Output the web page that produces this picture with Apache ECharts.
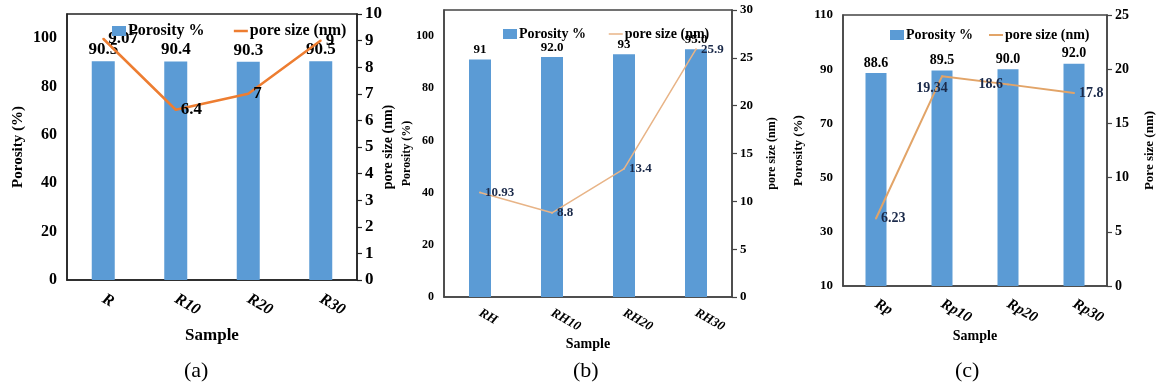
<!DOCTYPE html>
<html>
<head>
<meta charset="utf-8">
<script src="https://cdn.jsdelivr.net/npm/echarts@6/dist/echarts.min.js"></script>
<style>html,body{margin:0;padding:0;background:#fff}#c{width:1158px;height:387px}</style>
</head>
<body>
<div id="c"></div>
<script>
// ---- data ----
const catsA = ['R', 'R10', 'R20', 'R30'];
const porosityA = [90.5, 90.4, 90.3, 90.5];
const porosityLabelA = ['90.5', '90.4', '90.3', '90.5'];
const poreA = [9.07, 6.4, 7, 9];
const poreLabelA = ['9.07', '6.4', '7', '9'];

const catsB = ['RH', 'RH10', 'RH20', 'RH30'];
const porosityB = [91, 92.0, 93, 95.0];
const porosityLabelB = ['91', '92.0', '93', '95.0'];
const poreB = [10.93, 8.8, 13.4, 25.9];
const poreLabelB = ['10.93', '8.8', '13.4', '25.9'];

const catsC = ['Rp', 'Rp10', 'Rp20', 'Rp30'];
const porosityC = [88.6, 89.5, 90.0, 92.0];
const porosityLabelC = ['88.6', '89.5', '90.0', '92.0'];
const poreC = [6.23, 19.34, 18.6, 17.8];
const poreLabelC = ['6.23', '19.34', '18.6', '17.8'];

// ---- styles ----
const F = 'Liberation Serif';
const BAR = '#5B9BD5';

const panels = [
  {cats: catsA, bar: porosityA, barLab: porosityLabelA, line: poreA, lineLab: poreLabelA,
   grid: {left: 67, top: 14, width: 290, height: 266}, frame: '#222',
   lMin: 0, lMax: 110, lInt: 20, rMax: 10, rInt: 1,
   tick: 16, rtick: 17, dlab: 17, xlab: 16, nameL: 15, nameR: 14, sample: 17,
   lineColor: '#ED7D31', lineW: 2.5, lineLabColor: '#000',
   linePos: ['right', 'right', 'right', 'right'], lineOff: [[0,0],[0,0],[0,0],[0,0]],
   barW: 23, nameGapL: 41, nameGapR: 24, rName: 'pore size (nm)', sampleGap: 47, xMargin: 18,
   legend: {left: 107, top: 18, gap: 28, size: 16}, cap: '(a)', capX: 198},
  {cats: catsB, bar: porosityB, barLab: porosityLabelB, line: poreB, lineLab: poreLabelB,
   grid: {left: 444, top: 10, width: 288, height: 287}, frame: '#444',
   lMin: 0, lMax: 110, lInt: 20, rMax: 30, rInt: 5,
   tick: 12, rtick: 13, dlab: 13, xlab: 13, nameL: 12, nameR: 12, sample: 14,
   lineColor: '#E8B487', lineW: 1.5, lineLabColor: '#1B2A4A',
   linePos: ['right', 'right', 'right', 'right'], lineOff: [[0,0],[0,0],[0,0],[0,0]],
   barW: 22, nameGapL: 31, nameGapR: 34, rName: 'pore size (nm)', sampleGap: 40, xMargin: 15,
   legend: {left: 498, top: 22, gap: 22, size: 14}, cap: '(b)', capX: 587},
  {cats: catsC, bar: porosityC, barLab: porosityLabelC, line: poreC, lineLab: poreLabelC,
   grid: {left: 843, top: 15, width: 264, height: 271}, frame: '#444',
   lMin: 10, lMax: 110, lInt: 20, rMax: 25, rInt: 5,
   tick: 13, rtick: 14, dlab: 14, xlab: 15, nameL: 13, nameR: 13, sample: 14,
   lineColor: '#E2A468', lineW: 2, lineLabColor: '#1B2A4A',
   linePos: ['right', 'bottom', 'left', 'right'], lineOff: [[0,0],[-10,0],[0,0],[0,0]],
   barW: 21, nameGapL: 38, nameGapR: 36, rName: 'Pore size (nm)', sampleGap: 43, xMargin: 17,
   legend: {left: 885, top: 23, gap: 15, size: 14}, cap: '(c)', capX: 969}
];

const grid = [], xAxis = [], yAxis = [], series = [], legend = [], graphic = [];
panels.forEach((p, i) => {
  grid.push(Object.assign({show: true, borderColor: p.frame, borderWidth: 1.5, containLabel: false}, p.grid));
  xAxis.push({
    type: 'category', gridIndex: i, data: p.cats,
    axisLine: {lineStyle: {color: p.frame, width: 1.5}}, axisTick: {show: false},
    axisLabel: {rotate: -30, color: '#000', fontFamily: F, fontWeight: 'bold', fontStyle: 'italic', fontSize: p.xlab, margin: p.xMargin},
    name: 'Sample', nameLocation: 'middle', nameGap: p.sampleGap, nameMoveOverlap: false,
    nameTextStyle: {color: '#000', fontFamily: F, fontWeight: 'bold', fontSize: p.sample}
  });
  yAxis.push({
    type: 'value', gridIndex: i, position: 'left', min: p.lMin, max: p.lMax, interval: p.lInt,
    axisLine: {show: true, lineStyle: {color: p.frame, width: 1.5}}, axisTick: {show: false},
    splitLine: {show: false},
    axisLabel: {showMaxLabel: p.lMin === 10, color: '#000', fontFamily: F, fontWeight: 'bold', fontSize: p.tick, margin: 10},
    name: 'Porosity (%)', nameLocation: 'middle', nameGap: p.nameGapL, nameRotate: 90, nameMoveOverlap: false,
    nameTextStyle: {color: '#000', fontFamily: F, fontWeight: 'bold', fontSize: p.nameL}
  });
  yAxis.push({
    type: 'value', gridIndex: i, position: 'right', min: 0, max: p.rMax, interval: p.rInt,
    axisLine: {show: true, lineStyle: {color: p.frame, width: 1.5}},
    axisTick: {show: true, inside: false, length: 5, lineStyle: {color: p.frame, width: 1.2}},
    splitLine: {show: false},
    axisLabel: {color: '#000', fontFamily: F, fontWeight: 'bold', fontSize: p.rtick, margin: 8},
    name: p.rName, nameLocation: 'middle', nameGap: p.nameGapR, nameRotate: 90, nameMoveOverlap: false,
    nameTextStyle: {color: '#000', fontFamily: F, fontWeight: 'bold', fontSize: p.nameR}
  });
  series.push({
    type: 'bar', name: 'Porosity %', xAxisIndex: i, yAxisIndex: 2 * i,
    barWidth: p.barW, itemStyle: {color: BAR},
    data: p.bar,
    label: {show: true, position: 'top', distance: 3, color: '#000', fontFamily: F, fontWeight: 'bold', fontSize: p.dlab,
      formatter: (d) => p.barLab[d.dataIndex]},
    z: 2
  });
  series.push({
    type: 'line', name: 'pore size (nm)', xAxisIndex: i, yAxisIndex: 2 * i + 1,
    symbol: 'circle', symbolSize: 2, itemStyle: {color: p.lineColor},
    lineStyle: {color: p.lineColor, width: p.lineW},
    data: p.line.map((v, k) => ({value: v, label: {position: p.linePos[k], offset: p.lineOff[k]}})),
    label: {show: true, distance: 4, color: p.lineLabColor, fontFamily: F, fontWeight: 'bold', fontSize: p.dlab,
      formatter: (d) => p.lineLab[d.dataIndex]},
    z: 3
  });
  legend.push({
    left: p.legend.left, top: p.legend.top, itemGap: p.legend.gap, itemWidth: 14, itemHeight: 10,
    selectedMode: false,
    textStyle: {color: '#000', fontFamily: F, fontWeight: 'bold', fontSize: p.legend.size, padding: [0, 0, 0, -3]},
    data: [
      {name: 'Porosity %', icon: 'rect', itemStyle: {color: BAR}},
      {name: 'pore size (nm)', itemStyle: {color: p.lineColor, opacity: 0}, lineStyle: {color: p.lineColor, width: p.lineW}}
    ]
  });
  graphic.push({
    type: 'text', left: p.capX - 14, top: 360,
    style: {text: p.cap, fontFamily: F, fontSize: 22, fill: '#000'}
  });
});

const chart = echarts.init(document.getElementById('c'), null, {renderer: 'canvas'});
chart.setOption({
  animation: false,
  backgroundColor: '#fff',
  grid, xAxis, yAxis, series, legend, graphic
});
</script>
</body>
</html>
